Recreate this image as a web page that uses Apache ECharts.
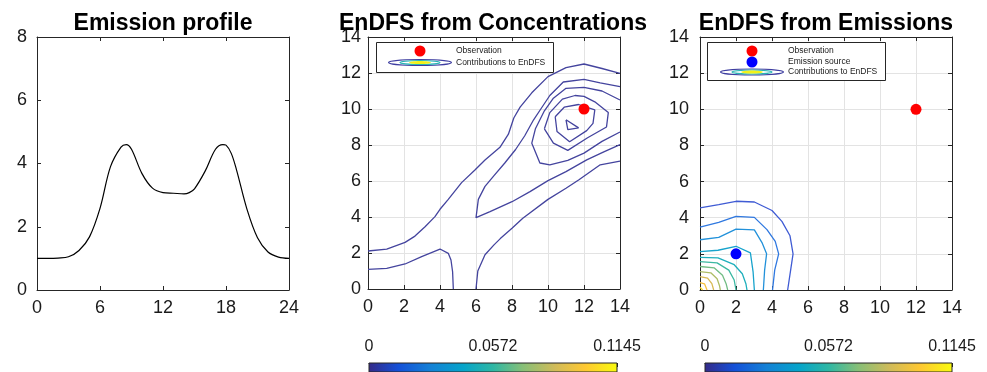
<!DOCTYPE html>
<html>
<head>
<meta charset="utf-8">
<script src="https://cdn.jsdelivr.net/npm/echarts@6/dist/echarts.min.js"></script>
<style>html,body{margin:0;padding:0;background:#fff;}#chart{width:987px;height:372px;}</style>
</head>
<body>
<div id="chart"></div>
<script>
// ---------- data ----------
const profileHours  = [0,1,2,3,4,5,6,7,8,8.5,9,10,11,12,13,14,14.5,15,16,17,17.7,18,18.5,19,20,21,22,23,24];
const profileValues = [1.0,1.0,1.01,1.05,1.25,1.68,2.58,3.9,4.52,4.6,4.45,3.68,3.22,3.08,3.06,3.04,3.08,3.2,3.75,4.45,4.6,4.58,4.32,3.8,2.55,1.65,1.2,1.04,1.0];

const observation    = [[12, 10]];
const emissionSource = [[2, 2]];

// contours, EnDFS from concentrations
const concA = [[0,2.11],[1.04,2.22],[2.06,2.59],[2.61,2.94],[3.17,3.46],[3.72,4.02],[4.0,4.43],[4.46,4.98],[5.2,5.91],[5.94,6.61],[6.5,7.17],[7.33,7.87],[7.8,8.6],[8.1,9.5],[8.45,10.1],[9.1,10.9],[10.0,11.8],[11.0,12.3],[12.0,12.5],[13.0,12.25],[14,11.98]];
const concB = [[0,1.09],[1.04,1.15],[2.06,1.39],[2.98,1.8],[4.0,2.22],[4.46,1.98],[4.61,1.61],[4.7,0.96],[4.74,0]];
const concC = [[14,11.24],[12.9,11.45],[12.0,11.65],[10.85,11.5],[10.1,10.75],[9.6,10.0],[9.2,9.4],[8.7,8.5],[8.2,7.75],[7.6,7.0],[7.0,6.3],[6.5,5.7],[6.13,4.98],[6.0,3.96],[6.78,4.3],[8.0,4.85],[9.0,5.41],[10.0,6.02],[11.0,6.52],[12.15,7.17],[13.1,7.62],[14,8.02]];
const concD = [[6,0],[6.1,1.0],[6.5,1.9],[7.0,2.45],[7.35,2.8],[8,3.37],[8.6,3.93],[10,4.98],[11,5.6],[11.7,6.06],[12.9,6.9],[14,7.1]];
const concE = [[14,10.5],[13.0,11.0],[12.0,11.2],[11.0,11.15],[10.3,10.6],[9.8,9.9],[9.3,8.9],[9.1,8.1],[9.55,7.0],[10.1,6.9],[11.1,7.15],[12.0,7.55],[13.0,8.2],[14,8.72]];
const concF = [[9.8,8.9],[10.1,9.8],[10.8,10.55],[11.5,10.75],[12.0,10.7],[12.6,10.4],[13.35,9.8],[13.25,9.0],[12.2,8.4],[11.1,7.7],[10.3,8.1],[9.8,8.9]];
const concG = [[10.4,9.57],[10.9,10.1],[11.7,10.25],[12.6,9.95],[12.5,9.2],[12.15,8.8],[11.2,8.18],[10.5,8.75],[10.4,9.57]];
const concH = [[11.0,9.4],[11.7,8.95],[11.1,8.85],[11.0,9.4]];

// contours, EnDFS from emissions (outer = lowest level)
const emisL1  = [[0,4.54],[1.04,4.72],[2,4.91],[3.02,4.87],[4,4.4],[4.55,3.8],[5.0,3.0],[5.17,2.0],[5.05,1.2],[4.87,0]];
const emisL2  = [[0,3.48],[1.04,3.74],[2,4.07],[3.02,4.02],[3.72,3.34],[4.18,2.69],[4.37,2.0],[4.15,1.1],[4.03,0]];
const emisL3  = [[0,2.78],[1.04,2.91],[2,3.37],[3.02,3.33],[3.46,2.59],[3.7,2.0],[3.59,1.1],[3.52,0]];
const emisL4  = [[0,2.12],[1.0,2.2],[2,2.42],[2.8,2.05],[2.95,1.0],[3.02,0]];
const emisL5  = [[0,1.81],[1,1.78],[1.9,1.4],[2.35,0.9],[2.55,0.35],[2.61,0]];
const emisL6  = [[0,1.57],[0.95,1.5],[1.6,1.1],[1.9,0.55],[2.0,0]];
const emisL7  = [[0,1.3],[0.8,1.22],[1.25,0.82],[1.45,0.35],[1.54,0]];
const emisL8  = [[0,1.02],[0.6,0.95],[0.95,0.62],[1.08,0.25],[1.13,0]];
const emisL9  = [[0,0.74],[0.42,0.66],[0.66,0.35],[0.76,0]];
const emisL10 = [[0,0.41],[0.25,0.34],[0.39,0]];
const emisL11 = [[0,0.15],[0.15,0]];

const colorbarMin = 0, colorbarMax = 0.1145;
const colorbarLabels = ['0', '0.0572', '0.1145'];

// ---------- styles ----------
const FONT = 'Liberation Sans';
const AX = '#262626';
const GRIDC = '#e3e3e3';
const concColor = '#44449e';
const emisColors = ['#3f5bd4','#2f78e0','#2291da','#17a3cc','#1eafbc','#3cb8a2','#72bd84','#aebd66','#d8ba55','#f6c03e','#f8d82a'];
const parula = [
  {offset:0.00,color:'#352a87'},{offset:0.12,color:'#1450d8'},{offset:0.25,color:'#1481d6'},
  {offset:0.38,color:'#06a4ca'},{offset:0.50,color:'#2eb7a4'},{offset:0.62,color:'#87bf77'},
  {offset:0.75,color:'#d1bb59'},{offset:0.87,color:'#fec832'},{offset:1.00,color:'#f9fb0e'}];

const chart = echarts.init(document.getElementById('chart'), null, {renderer:'canvas'});

const grids = [
  {left:37,  top:37, width:252, height:253},
  {left:368, top:37, width:252, height:252},
  {left:700, top:37, width:252, height:253},
  {left:369, top:363, width:248, height:20},
  {left:705, top:363, width:247, height:20}
];

const xAxes = [], yAxes = [];
function panelAxes(g, xmax, xint, ymax, yint, showGrid, yMargin) {
  const lab = {fontFamily:FONT, fontSize:18, color:'#1a1a1a'};
  const line = {show:true, onZero:false, lineStyle:{color:AX, width:1}};
  const tick = {show:true, inside:true, length:4, lineStyle:{color:AX}};
  const split = {show:showGrid, lineStyle:{color:GRIDC, width:1}};
  xAxes.push({type:'value', gridIndex:g, position:'bottom', min:0, max:xmax, interval:xint,
    axisLine:line, axisTick:tick, splitLine:split, axisLabel:Object.assign({margin:9}, lab)});
  xAxes.push({type:'value', gridIndex:g, position:'top', min:0, max:xmax, interval:xint,
    axisLine:line, axisTick:tick, splitLine:{show:false}, axisLabel:{show:false}});
  yAxes.push({type:'value', gridIndex:g, position:'left', min:0, max:ymax, interval:yint,
    axisLine:line, axisTick:tick, splitLine:split, axisLabel:Object.assign({margin:yMargin}, lab)});
  yAxes.push({type:'value', gridIndex:g, position:'right', min:0, max:ymax, interval:yint,
    axisLine:line, axisTick:tick, splitLine:{show:false}, axisLabel:{show:false}});
}
panelAxes(0, 24, 6, 8, 2, false, 10);
panelAxes(1, 14, 2, 14, 2, true, 7);
panelAxes(2, 14, 2, 14, 2, true, 11);
[3,4].forEach(g => {
  xAxes.push({type:'value', gridIndex:g, position:'top', min:colorbarMin, max:colorbarMax, interval:(colorbarMax-colorbarMin)/2,
    axisLine:{show:true, onZero:false, lineStyle:{color:AX}}, axisTick:{show:true, inside:true, length:4, lineStyle:{color:AX}},
    splitLine:{show:false},
    axisLabel:{margin:8, fontFamily:FONT, fontSize:16, color:'#1a1a1a', showMinLabel:true, showMaxLabel:true,
      formatter:(v, i) => colorbarLabels[i]}});
  yAxes.push({type:'value', gridIndex:g, min:0, max:1, show:false});
});

const series = [];
series.push({type:'line', xAxisIndex:0, yAxisIndex:0, data:profileHours.map((h,i)=>[h, profileValues[i]]),
  smooth:0.35, showSymbol:false, lineStyle:{color:'#000', width:1.2}, silent:true});

[concA, concB, concC, concD, concE, concF, concG, concH].forEach(l => series.push({
  type:'line', xAxisIndex:2, yAxisIndex:2, data:l, showSymbol:false, silent:true,
  lineStyle:{color:concColor, width:1.3}}));
series.push({type:'scatter', xAxisIndex:2, yAxisIndex:2, data:observation, symbol:'circle', symbolSize:11,
  itemStyle:{color:'#ff0000', opacity:1}, silent:true, z:5});

[emisL1,emisL2,emisL3,emisL4,emisL5,emisL6,emisL7,emisL8,emisL9,emisL10,emisL11].forEach((l, i) => series.push({
  type:'line', xAxisIndex:4, yAxisIndex:4, data:l, showSymbol:false, silent:true,
  lineStyle:{color:emisColors[i], width:1.3}}));
series.push({type:'scatter', xAxisIndex:4, yAxisIndex:4, data:observation, symbol:'circle', symbolSize:11,
  itemStyle:{color:'#ff0000', opacity:1}, silent:true, z:5});
series.push({type:'scatter', xAxisIndex:4, yAxisIndex:4, data:emissionSource, symbol:'circle', symbolSize:11,
  itemStyle:{color:'#0000ff', opacity:1}, silent:true, z:5});

[6,7].forEach(ax => series.push({type:'line', xAxisIndex:ax, yAxisIndex:ax, data:[[colorbarMin,0]], showSymbol:false,
  lineStyle:{width:0}, silent:true,
  markArea:{silent:true, itemStyle:{color:{type:'linear', x:0, y:0, x2:1, y2:0, colorStops:parula}, borderColor:AX, borderWidth:1},
    data:[[{coord:[colorbarMin,0]},{coord:[colorbarMax,1]}]]}}));

function ellipseIcon(cx, cy) {
  return [
    {type:'ellipse', shape:{cx:cx, cy:cy, rx:31.5, ry:3}, style:{fill:'none', stroke:'#3e3ea0', lineWidth:1.2}, z:101},
    {type:'ellipse', shape:{cx:cx, cy:cy, rx:20, ry:2}, style:{fill:'none', stroke:'#2bb5b5', lineWidth:1.2}, z:102},
    {type:'ellipse', shape:{cx:cx, cy:cy, rx:11, ry:1.6}, style:{fill:'#f2f21a'}, z:103}
  ];
}
const legTxt = {fontFamily:FONT, fontSize:8.5, fill:'#1a1a1a', verticalAlign:'middle', align:'left'};
const graphic = [
  {type:'rect', shape:{x:376.5, y:42.5, width:177, height:30}, style:{fill:'#fff', stroke:AX, lineWidth:1}, z:100},
  {type:'circle', shape:{cx:420, cy:51, r:5.5}, style:{fill:'#ff0000'}, z:101},
  ...ellipseIcon(420, 62.5),
  {type:'text', x:456, y:51, style:Object.assign({text:'Observation'}, legTxt), z:101},
  {type:'text', x:456, y:62.5, style:Object.assign({text:'Contributions to EnDFS'}, legTxt), z:101},

  {type:'rect', shape:{x:707.5, y:42.5, width:178, height:38}, style:{fill:'#fff', stroke:AX, lineWidth:1}, z:100},
  {type:'circle', shape:{cx:752, cy:51, r:5.5}, style:{fill:'#ff0000'}, z:101},
  {type:'circle', shape:{cx:752, cy:62, r:5.5}, style:{fill:'#0000ff'}, z:101},
  ...ellipseIcon(752, 72),
  {type:'text', x:788, y:51, style:Object.assign({text:'Observation'}, legTxt), z:101},
  {type:'text', x:788, y:62, style:Object.assign({text:'Emission source'}, legTxt), z:101},
  {type:'text', x:788, y:72, style:Object.assign({text:'Contributions to EnDFS'}, legTxt), z:101}
];

const titleStyle = {fontFamily:FONT, fontSize:23, fontWeight:'bold', color:'#000'};
chart.setOption({
  animation:false,
  backgroundColor:'#fff',
  title:[
    {text:'Emission profile', left:158, top:7, textAlign:'center', textStyle:titleStyle},
    {text:'EnDFS from Concentrations', left:488, top:7, textAlign:'center', textStyle:titleStyle},
    {text:'EnDFS from Emissions', left:821, top:7, textAlign:'center', textStyle:titleStyle}
  ],
  grid:grids,
  xAxis:xAxes,
  yAxis:yAxes,
  series:series,
  graphic:graphic
});
</script>
</body>
</html>
